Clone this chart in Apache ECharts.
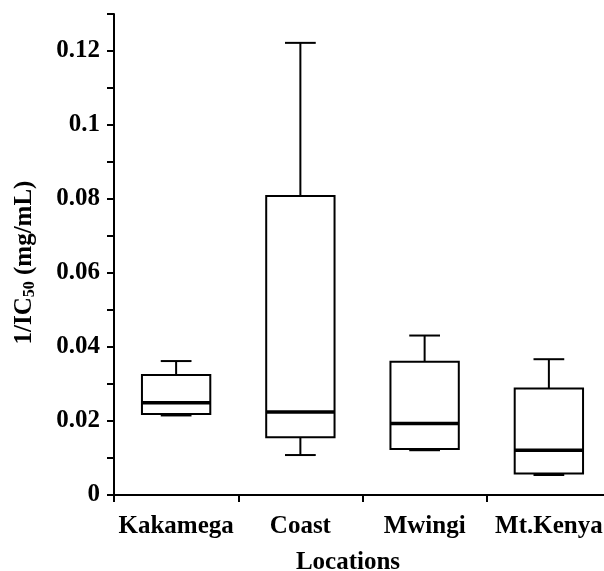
<!DOCTYPE html>
<html>
<head>
<meta charset="utf-8">
<script src="https://cdn.jsdelivr.net/npm/echarts@6/dist/echarts.min.js"></script>
<style>
  html, body { margin: 0; padding: 0; background: #fff; }
  #chart { width: 604px; height: 571px; }
</style>
</head>
<body>
<div id="chart"></div>
<script>
// 数据
const categories = ['Kakamega', 'Coast', 'Mwingi', 'Mt.Kenya'];
const mins    = [0.0215, 0.0108, 0.0121, 0.0054];
const q1s     = [0.0219, 0.0156, 0.0124, 0.0058];
const medians = [0.0249, 0.0224, 0.0193, 0.0121];
const q3s     = [0.0324, 0.0808, 0.0360, 0.0288];
const maxs    = [0.0362, 0.1222, 0.0431, 0.0367];

const font = "'Liberation Serif', 'Times New Roman', serif";

const chart = echarts.init(document.getElementById('chart'), null, { renderer: 'canvas' });

const rows = categories.map((c, i) => [i, mins[i], q1s[i], medians[i], q3s[i], maxs[i]]);

// 箱线图（自定义绘制，须线帽为箱宽一半，中位线加粗）
const renderBox = (params, api) => {
    const i = api.value(0);
    const band = api.size([1, 0])[0];
    const boxW = band * 0.55;
    const capW = boxW * 0.45;
    const x = api.coord([i, 0])[0];
    const y = v => api.coord([i, v])[1];
    const pMin = y(api.value(1)), pQ1 = y(api.value(2)), pMed = y(api.value(3));
    const pQ3 = y(api.value(4)), pMax = y(api.value(5));
    const line = (x1, y1, x2, y2, w) => ({
        type: 'line',
        shape: { x1, y1, x2, y2 },
        style: { stroke: '#000', lineWidth: w }
    });
    return {
        type: 'group',
        children: [
            line(x, pQ3, x, pMax, 2),
            line(x - capW / 2, pMax, x + capW / 2, pMax, 2),
            line(x, pQ1, x, pMin, 2),
            line(x - capW / 2, pMin, x + capW / 2, pMin, 2),
            {
                type: 'rect',
                shape: { x: x - boxW / 2, y: pQ3, width: boxW, height: pQ1 - pQ3 },
                style: { fill: '#fff', stroke: '#000', lineWidth: 2 }
            },
            line(x - boxW / 2, pMed, x + boxW / 2, pMed, 3.5)
        ]
    };
};

const option = {
    backgroundColor: '#fff',
    animation: false,
    grid: {
        left: 114, top: 14, width: 497, bottom: 76,
        containLabel: false,
        outerBoundsMode: 'none'
    },
    xAxis: {
        type: 'category',
        data: categories,
        name: 'Locations',
        nameLocation: 'middle',
        nameGap: 55,
        nameTextStyle: {
            fontFamily: font, fontWeight: 'bold', fontSize: 25, color: '#000',
            padding: [0, 29, 0, 0]
        },
        axisLine: { lineStyle: { color: '#000', width: 2 } },
        axisTick: { show: true, interval: 0, length: 7, lineStyle: { color: '#000', width: 2 } },
        axisLabel: {
            interval: 0, hideOverlap: false,
            fontFamily: font, fontWeight: 'bold', fontSize: 25, color: '#000', margin: 19
        }
    },
    yAxis: {
        type: 'value',
        min: 0,
        max: 0.13,
        interval: 0.01,
        name: '{a|1/IC}{s|50}{a| (mg/mL)}',
        nameLocation: 'middle',
        nameGap: 76,
        nameTextStyle: {
            padding: [0, 16, 0, 0],
            rich: {
                a: { fontFamily: font, fontWeight: 'bold', fontSize: 25, color: '#000' },
                s: { fontFamily: font, fontWeight: 'bold', fontSize: 16, color: '#000', padding: [10, 0, 0, 0] }
            }
        },
        splitLine: { show: false },
        axisLine: { show: true, lineStyle: { color: '#000', width: 2 } },
        axisTick: { show: true, length: 7, lineStyle: { color: '#000', width: 2 } },
        axisLabel: {
            fontFamily: font, fontWeight: 'bold', fontSize: 25, color: '#000', margin: 14,
            formatter: v => (Math.round(v * 100) % 2 === 0 ? String(+v.toFixed(2)) : '')
        }
    },
    series: [{
        type: 'custom',
        renderItem: renderBox,
        encode: { x: 0, y: [1, 2, 3, 4, 5] },
        data: rows
    }]
};

chart.setOption(option);
window.addEventListener('resize', chart.resize);
</script>
</body>
</html>
